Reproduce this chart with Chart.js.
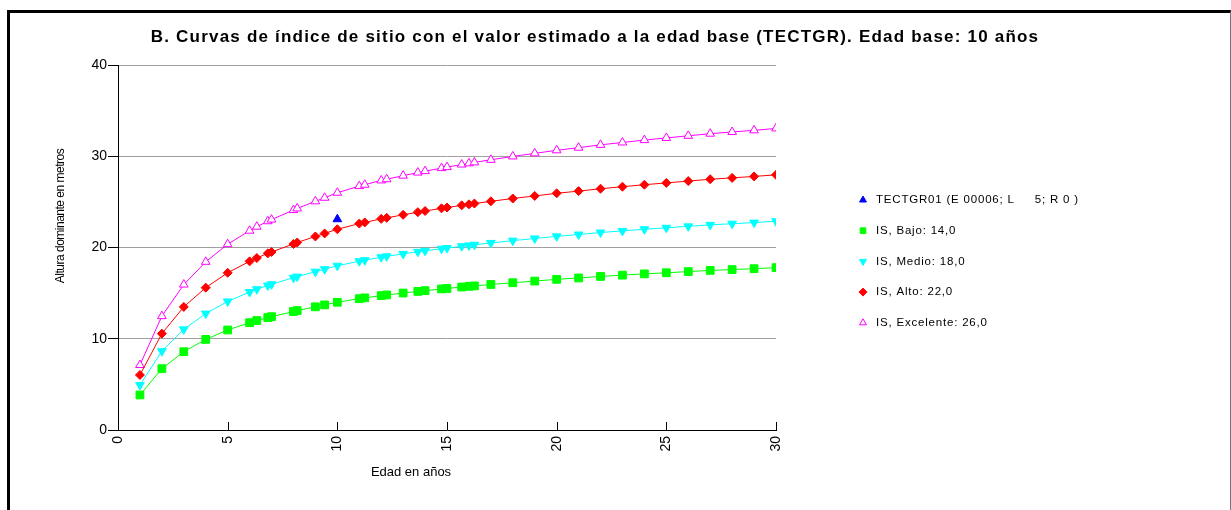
<!DOCTYPE html>
<html>
<head>
<meta charset="utf-8">
<script src="https://cdn.jsdelivr.net/npm/chart.js@4.4.1/dist/chart.umd.min.js"></script>
<style>
    html, body { margin: 0; padding: 0; background: #fff; }
    #wrap { position: relative; width: 1231px; height: 510px; }
    #frame { position: absolute; left: 7px; top: 10px; right: 0; bottom: 0;
        border-top: 3px solid #000; border-left: 3px solid #000; border-right: 1px solid #777;
        pointer-events: none; }
</style>
</head>
<body>
<div id="wrap">
    <canvas id="site-index-chart" width="1231" height="510"></canvas>
    <div id="frame"></div>
</div>
<script>
    "use strict";

    // ages (years) of the curve points
    var edad = [1, 2, 3, 4, 5, 6, 6.33, 6.83, 7, 8, 8.17, 9, 9.42, 10, 11, 11.25, 12, 12.25, 13, 13.67,
        14, 14.75, 15, 15.67, 16, 16.25, 17, 18, 19, 20, 21, 22, 23, 24, 25, 26, 27, 28, 29, 30];

    // dominant height (m) for each site index curve
    var bajo = [3.84, 6.72, 8.58, 9.93, 10.96, 11.76, 12.0, 12.32, 12.42, 12.98, 13.08, 13.5, 13.71, 14.0, 14.39, 14.48,
        14.73, 14.8, 15.01, 15.19, 15.27, 15.46, 15.51, 15.67, 15.74, 15.79, 15.95, 16.14, 16.32, 16.51, 16.66, 16.83,
        16.97, 17.11, 17.23, 17.36, 17.49, 17.58, 17.68, 17.79];
    var medio = [4.93, 8.64, 11.03, 12.76, 14.09, 15.12, 15.43, 15.84, 15.97, 16.69, 16.81, 17.35, 17.62, 18.0, 18.5, 18.61,
        18.94, 19.03, 19.3, 19.53, 19.64, 19.87, 19.94, 20.14, 20.23, 20.3, 20.5, 20.75, 20.99, 21.22, 21.42, 21.64,
        21.82, 22.0, 22.16, 22.32, 22.48, 22.61, 22.73, 22.88];
    var alto = [6.03, 10.56, 13.49, 15.6, 17.23, 18.48, 18.85, 19.36, 19.51, 20.39, 20.55, 21.21, 21.54, 22.0, 22.62, 22.75,
        23.14, 23.25, 23.58, 23.87, 24.0, 24.29, 24.38, 24.62, 24.73, 24.82, 25.06, 25.37, 25.65, 25.94, 26.18, 26.44,
        26.66, 26.88, 27.08, 27.28, 27.48, 27.63, 27.79, 27.96];
    var excelente = [7.12, 12.48, 15.94, 18.43, 20.36, 21.84, 22.28, 22.88, 23.06, 24.1, 24.28, 25.06, 25.45, 26.0, 26.73, 26.88,
        27.35, 27.48, 27.87, 28.21, 28.37, 28.7, 28.81, 29.09, 29.22, 29.33, 29.61, 29.98, 30.32, 30.65, 30.94, 31.25,
        31.51, 31.77, 32.01, 32.24, 32.47, 32.66, 32.84, 33.05];

    // measured plot
    var parcelaEdad = [10];
    var parcelaAltura = [23.1];

    var seriesLabels = ['TECTGR01 (E 00006; L     5; R 0 )', 'IS, Bajo: 14,0', 'IS, Medio: 18,0', 'IS, Alto: 22,0', 'IS, Excelente: 26,0'];
    var yTicks = [0, 10, 20, 30, 40];
    var xTicks = [0, 5, 10, 15, 20, 25, 30];

    var titleText = 'B. Curvas de índice de sitio con el valor estimado a la edad base (TECTGR). Edad base: 10 años';
    var fontFamily = '"Liberation Sans", Arial, Helvetica, sans-serif';

    function toPoints(xs, ys) {
        return xs.map(function (x, i) {
            return {x: x, y: ys[i]};
        });
    }

    function curve(label, values, color, style, radius, rotation, fill) {
        return {
            label: label,
            data: toPoints(edad, values),
            showLine: true,
            borderColor: color,
            borderWidth: 1,
            tension: 0,
            pointStyle: style,
            pointRotation: rotation,
            pointRadius: radius,
            pointHoverRadius: radius,
            pointBackgroundColor: fill || color,
            pointBorderColor: color,
            pointBorderWidth: 1
        };
    }

    // extra drawing: title, inward x ticks, axis titles and the legend
    var decorPlugin = {
        id: 'decor',
        afterDraw: function (chart) {
            var ctx = chart.ctx;
            var xs = chart.scales.x;
            var area = chart.chartArea;
            ctx.save();

            ctx.strokeStyle = '#000';
            ctx.lineWidth = 1;
            xTicks.forEach(function (v) {
                if (v === 0) return;
                var px = Math.round(xs.getPixelForValue(v)) + 0.5;
                ctx.beginPath();
                ctx.moveTo(px, area.bottom);
                ctx.lineTo(px, area.bottom - 8);
                ctx.stroke();
            });

            ctx.fillStyle = '#000';
            ctx.textAlign = 'center';
            ctx.textBaseline = 'middle';

            ctx.font = 'bold 17px ' + fontFamily;
            ctx.letterSpacing = '1.2px';
            ctx.fillText(titleText, 595, 37);

            ctx.font = '13px ' + fontFamily;
            ctx.letterSpacing = '0px';
            ctx.fillText('Edad en años', 411, 472);

            ctx.save();
            ctx.translate(61, 216);
            ctx.rotate(-Math.PI / 2);
            ctx.font = '12px ' + fontFamily;
            ctx.letterSpacing = '-0.5px';
            ctx.fillText('Altura dominante en metros', 0, 0);
            ctx.restore();

            ctx.textAlign = 'left';
            ctx.font = '11.5px ' + fontFamily;
            ctx.letterSpacing = '0.8px';
            chart.data.datasets.forEach(function (ds, i) {
                var y = 200 + i * 30.7;
                ctx.fillStyle = ds.pointBackgroundColor;
                ctx.strokeStyle = ds.pointBorderColor;
                Chart.helpers.drawPoint(ctx, {
                    pointStyle: ds.pointStyle,
                    rotation: ds.pointRotation || 0,
                    radius: 4,
                    borderWidth: 1
                }, 863, y);
                ctx.fillStyle = '#000';
                ctx.fillText(ds.label, 876, y);
            });
            ctx.letterSpacing = '0px';

            ctx.restore();
        }
    };

    var chartElement = document.getElementById('site-index-chart');
    var chart = new Chart(chartElement.getContext('2d'), {
        type: 'scatter',
        data: {
            datasets: [{
                label: seriesLabels[0],
                data: toPoints(parcelaEdad, parcelaAltura),
                showLine: false,
                pointStyle: 'triangle',
                pointRotation: 0,
                pointRadius: 5,
                pointHoverRadius: 5,
                pointBackgroundColor: '#0000ff',
                pointBorderColor: '#0000ff',
                pointBorderWidth: 1
            },
                curve(seriesLabels[1], bajo, '#00ff00', 'rect', 5.5, 0),
                curve(seriesLabels[2], medio, '#00ffff', 'triangle', 5, 180),
                curve(seriesLabels[3], alto, '#ff0000', 'rectRot', 4.5, 0),
                curve(seriesLabels[4], excelente, '#ff00ff', 'triangle', 5, 0, '#ffffff')
            ]
        },
        options: {
            responsive: false,
            animation: false,
            layout: {
                padding: {left: 0, right: 455, top: 65, bottom: 0}
            },
            plugins: {
                legend: {display: false},
                tooltip: {enabled: false},
                title: {display: false}
            },
            scales: {
                x: {
                    type: 'linear',
                    min: 0,
                    max: 30,
                    afterBuildTicks: function (scale) {
                        scale.ticks = xTicks.map(function (v) { return {value: v}; });
                    },
                    afterFit: function (scale) {
                        scale.height = 80;
                    },
                    ticks: {
                        color: '#000',
                        font: {family: fontFamily, size: 14},
                        minRotation: 90,
                        maxRotation: 90,
                        padding: 6
                    },
                    grid: {display: true, drawOnChartArea: false, drawTicks: false},
                    border: {display: true, color: '#000', width: 1}
                },
                y: {
                    type: 'linear',
                    min: 0,
                    max: 40,
                    afterBuildTicks: function (scale) {
                        scale.ticks = yTicks.map(function (v) { return {value: v}; });
                    },
                    afterFit: function (scale) {
                        scale.width = 118;
                    },
                    ticks: {
                        color: '#000',
                        font: {family: fontFamily, size: 14},
                        padding: 1
                    },
                    grid: {
                        color: function (c) {
                            return c.tick && c.tick.value === 0 ? 'rgba(0,0,0,0)' : '#a0a0a0';
                        },
                        tickColor: '#000',
                        tickLength: 10,
                        lineWidth: 1
                    },
                    border: {display: true, color: '#000', width: 1}
                }
            }
        },
        plugins: [decorPlugin]
    });
</script>
</body>
</html>
